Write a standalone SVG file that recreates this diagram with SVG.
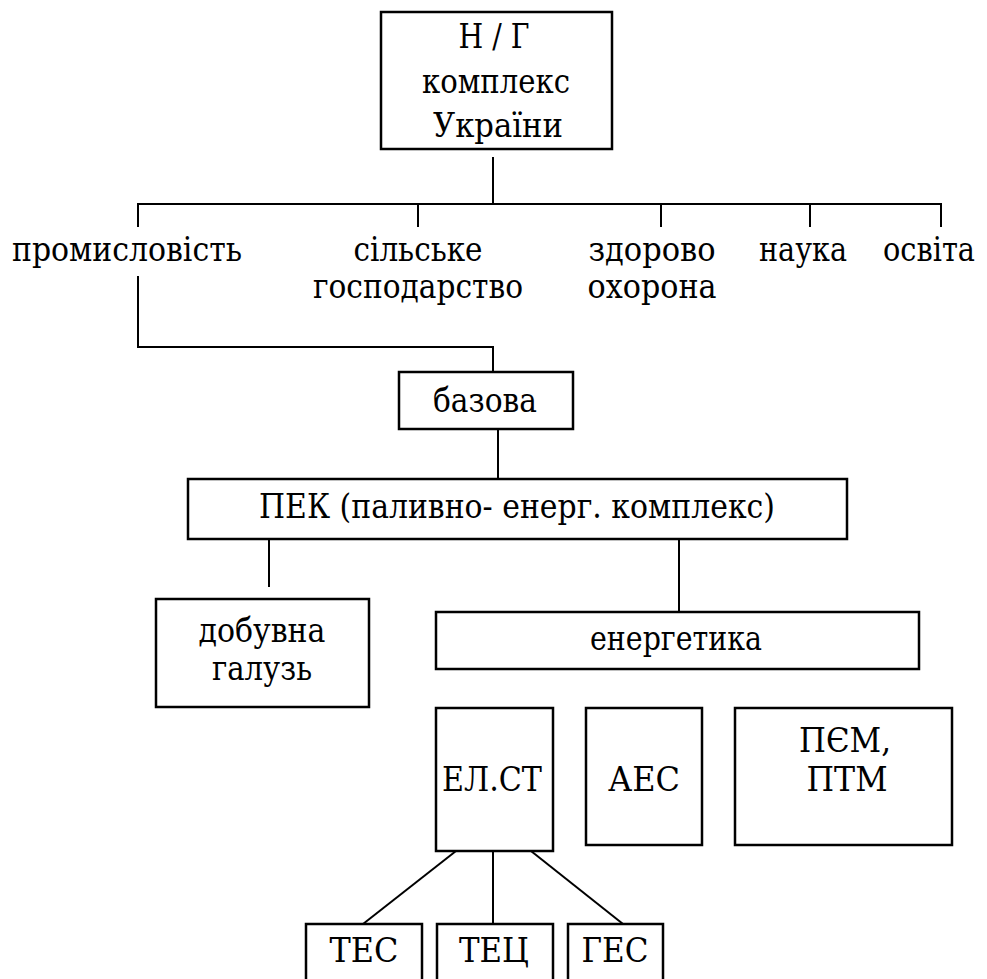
<svg xmlns="http://www.w3.org/2000/svg" width="987" height="979" viewBox="0 0 987 979">
<style>
.b{fill:#fff;stroke:#000;stroke-width:2.5}
.t{font-family:'DejaVu Serif','Liberation Serif',serif;font-size:34px;fill:#000;text-anchor:middle}
.c{fill:none;stroke:#000;stroke-width:2}
</style>
<rect width="987" height="979" fill="#fff"/>
<g id="connectors">
<line class="c" x1="493" y1="157" x2="493" y2="204"/>
<line class="c" x1="137" y1="204" x2="942" y2="204"/>
<line class="c" x1="138" y1="204" x2="138" y2="227"/>
<line class="c" x1="418" y1="204" x2="418" y2="227"/>
<line class="c" x1="661" y1="204" x2="661" y2="227"/>
<line class="c" x1="810" y1="204" x2="810" y2="227"/>
<line class="c" x1="941" y1="204" x2="941" y2="227"/>
<polyline class="c" points="138,276 138,347 493,347 493,372"/>
<line class="c" x1="498" y1="426" x2="498" y2="479"/>
<line class="c" x1="269" y1="539" x2="269" y2="587"/>
<line class="c" x1="679" y1="539" x2="679" y2="612"/>
<line class="c" x1="456" y1="851" x2="363" y2="924"/>
<line class="c" x1="493" y1="851" x2="493" y2="924"/>
<line class="c" x1="531" y1="851" x2="623" y2="924"/>
</g>
<g id="root">
<rect class="b" x="381" y="12" width="231" height="137"/>
<text class="t"><tspan x="494" y="48" textLength="71" lengthAdjust="spacingAndGlyphs">Н / Г</tspan><tspan x="496" y="93" textLength="148" lengthAdjust="spacingAndGlyphs">комплекс</tspan><tspan x="498" y="137" textLength="130" lengthAdjust="spacingAndGlyphs">України</tspan></text>
</g>
<g id="industry"><text class="t" x="127" y="261" textLength="230" lengthAdjust="spacingAndGlyphs">промисловість</text></g>
<g id="agriculture"><text class="t"><tspan x="418" y="261" textLength="129" lengthAdjust="spacingAndGlyphs">сільське</tspan><tspan x="418" y="298" textLength="210" lengthAdjust="spacingAndGlyphs">господарство</tspan></text></g>
<g id="health"><text class="t"><tspan x="652" y="261" textLength="127" lengthAdjust="spacingAndGlyphs">здорово</tspan><tspan x="652" y="298" textLength="129" lengthAdjust="spacingAndGlyphs">охорона</tspan></text></g>
<g id="science"><text class="t" x="803" y="261" textLength="88" lengthAdjust="spacingAndGlyphs">наука</text></g>
<g id="education"><text class="t" x="929" y="261" textLength="92" lengthAdjust="spacingAndGlyphs">освіта</text></g>
<g id="base">
<rect class="b" x="399" y="372" width="174" height="57"/>
<text class="t" x="485" y="412" textLength="104" lengthAdjust="spacingAndGlyphs">базова</text>
</g>
<g id="pek">
<rect class="b" x="188" y="479" width="659" height="60"/>
<text class="t" x="517" y="518" textLength="516" lengthAdjust="spacingAndGlyphs">ПЕК (паливно- енерг. комплекс)</text>
</g>
<g id="mining">
<rect class="b" x="156" y="599" width="213" height="108"/>
<text class="t"><tspan x="262" y="642" textLength="127" lengthAdjust="spacingAndGlyphs">добувна</tspan><tspan x="262" y="680" textLength="100" lengthAdjust="spacingAndGlyphs">галузь</tspan></text>
</g>
<g id="energy">
<rect class="b" x="436" y="612" width="483" height="57"/>
<text class="t" x="676" y="650" textLength="172" lengthAdjust="spacingAndGlyphs">енергетика</text>
</g>
<g id="elst">
<rect class="b" x="436" y="708" width="117" height="143"/>
<text class="t" x="492" y="791" textLength="100" lengthAdjust="spacingAndGlyphs">ЕЛ.СТ</text>
</g>
<g id="aes">
<rect class="b" x="586" y="708" width="116" height="137"/>
<text class="t" x="644" y="791" textLength="72" lengthAdjust="spacingAndGlyphs">АЕС</text>
</g>
<g id="pem">
<rect class="b" x="735" y="708" width="217" height="137"/>
<text class="t"><tspan x="845" y="752" textLength="92" lengthAdjust="spacingAndGlyphs">ПЄМ,</tspan><tspan x="847" y="791" textLength="81" lengthAdjust="spacingAndGlyphs">ПТМ</tspan></text>
</g>
<g id="tes">
<rect class="b" x="306" y="924" width="116" height="70"/>
<text class="t" x="364" y="962" textLength="69" lengthAdjust="spacingAndGlyphs">ТЕС</text>
</g>
<g id="tec">
<rect class="b" x="437" y="924" width="116" height="70"/>
<text class="t" x="494" y="962" textLength="70" lengthAdjust="spacingAndGlyphs">ТЕЦ</text>
</g>
<g id="ges">
<rect class="b" x="568" y="924" width="95" height="70"/>
<text class="t" x="615" y="962" textLength="67" lengthAdjust="spacingAndGlyphs">ГЕС</text>
</g>
</svg>
